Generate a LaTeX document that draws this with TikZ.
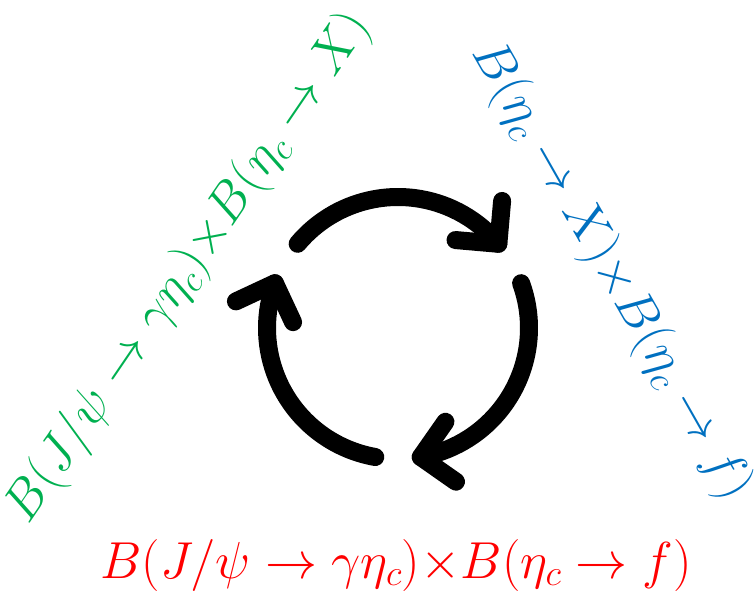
\documentclass[tikz,border=0pt]{standalone}
\RequirePackage{fix-cm}
\definecolor{gcol}{RGB}{0,176,80}
\definecolor{bcol}{RGB}{0,112,192}
\definecolor{rcol}{RGB}{255,0,0}
\begin{document}
\begin{tikzpicture}[x=1pt,y=1pt,
  lab/.style={inner sep=0pt,font=\fontsize{52}{60}\selectfont},
  cyc/.style={line width=18pt,line cap=round,line join=round,black}]
\useasboundingbox (0,0) rectangle (754,-601);
\coordinate (c) at (398,-328);
% labels
\node[lab,text=rcol] (red) at (396,-565) {$B(J/\psi\rightarrow\gamma\eta_c)\mathord{\times}B(\eta_c\rightarrow f)$};
\node[lab,text=gcol,rotate=55.7] (green) at (189,-268) {$B(J/\psi\rightarrow\gamma\eta_c)\mathord{\times}B(\eta_c\rightarrow X)$};
\node[lab,text=bcol,rotate=-60.3] (blue) at (611,-271) {$B(\eta_c\rightarrow X)\mathord{\times}B(\eta_c\rightarrow f)$};
% cycle arrows
\foreach \s/\e in {140/40, 20/-80, 260/160}{
  \draw[cyc] (c) ++(\s:131) arc[start angle=\s,end angle=\e,radius=131];
}
\foreach \e [count=\i] in {40,-80,160}{
  \coordinate (tip\i) at ([shift={(\e:131)}]c);
  \draw[cyc] ([shift={(\e+45:43)}]tip\i) -- (tip\i) -- ([shift={(\e+135:43)}]tip\i);
}
\end{tikzpicture}
\end{document}
